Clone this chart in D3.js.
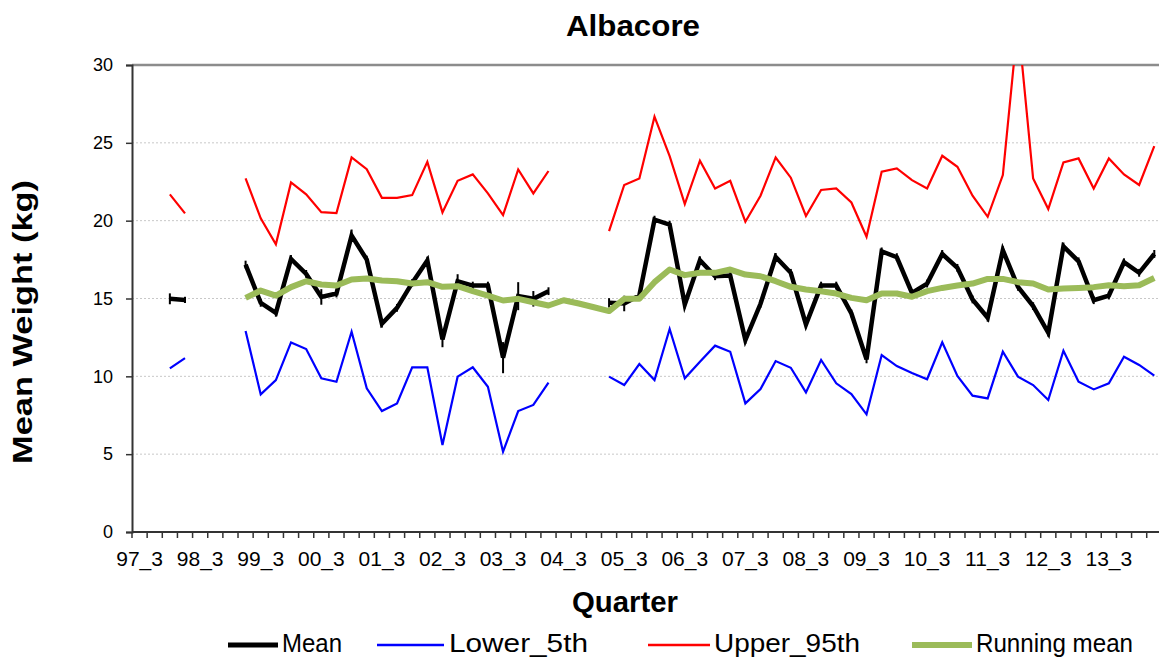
<!DOCTYPE html>
<html><head><meta charset="utf-8">
<script src="https://cdn.jsdelivr.net/npm/d3@7"></script>
<style>body{margin:0;background:#fff;overflow:hidden}text{font-family:"Liberation Sans",Arial,sans-serif}</style>
</head><body><svg id="c" width="1159" height="659"></svg>
<script>
const years = ["97","98","99","00","01","02","03","04","05","06","07","08","09","10","11","12","13","14"];
const categories = [];
years.forEach(y => [1,2,3,4].forEach(q => { if (!((y==="97" && q<3) || (y==="14" && q>2))) categories.push(y+"_"+q); }));
const tickLabels = ["97_3","98_3","99_3","00_3","01_3","02_3","03_3","04_3","05_3","06_3","07_3","08_3","09_3","10_3","11_3","12_3","13_3"];
const yTicks = [0,5,10,15,20,25,30];
const N = null;
const meanW = [N,N,14.98,14.91,N,N,N,17.18,14.72,14.08,17.54,16.58,15.1,15.32,19.04,17.5,13.38,14.4,16.0,17.44,12.37,16.11,15.83,15.83,11.2,15.15,14.98,15.47,N,N,N,14.72,14.68,15.19,20.06,19.74,14.62,17.46,16.43,16.47,12.33,14.66,17.67,16.65,13.33,15.83,15.83,14.04,11.09,18.03,17.65,15.36,15.96,17.86,16.97,14.94,13.76,18.1,15.75,14.51,12.8,18.35,17.39,14.89,15.19,17.33,16.65,17.86];
const meanErr = [N,N,0.35,0.2,N,N,N,0.25,0.25,0.25,0.25,0.25,0.5,0.25,0.4,0.25,0.25,0.25,0.25,0.25,0.5,0.45,0.25,0.25,1.0,0.9,0.5,0.25,N,N,N,0.3,0.5,0.25,0.25,0.25,0.25,0.25,0.25,0.25,0.25,0.25,0.25,0.25,0.25,0.25,0.25,0.25,0.25,0.25,0.25,0.25,0.25,0.25,0.25,0.25,0.25,0.25,0.25,0.25,0.25,0.25,0.25,0.25,0.25,0.25,0.25,0.25];
const lower5 = [N,N,10.51,11.17,N,N,N,12.91,8.84,9.76,12.18,11.75,9.87,9.65,12.87,9.23,7.77,8.26,10.58,10.58,5.59,9.98,10.58,9.33,5.16,7.77,8.16,9.59,N,N,N,9.98,9.44,10.79,9.76,13.04,9.87,10.94,11.97,11.58,8.26,9.18,10.98,10.55,8.97,11.05,9.55,8.86,7.56,11.37,10.66,10.22,9.81,12.18,10.02,8.76,8.58,11.58,9.98,9.44,8.48,11.65,9.65,9.16,9.55,11.26,10.73,10.04];
const upper95 = [N,N,21.69,20.47,N,N,N,22.71,20.15,18.48,22.46,21.69,20.55,20.49,24.06,23.31,21.47,21.47,21.64,23.78,20.53,22.56,22.97,21.75,20.36,23.29,21.75,23.19,N,N,N,19.33,22.29,22.71,26.68,24.15,21.07,23.85,22.07,22.56,19.93,21.6,24.06,22.76,20.3,21.97,22.07,21.17,18.97,23.14,23.36,22.6,22.07,24.17,23.46,21.6,20.25,22.93,32.8,22.71,20.75,23.74,24.0,22.07,24.0,22.97,22.29,24.79];
const runMean = [N,N,N,N,N,N,N,15.04,15.51,15.19,15.73,16.11,15.9,15.83,16.22,16.28,16.15,16.11,15.96,16.05,15.75,15.79,15.47,15.19,14.87,14.98,14.76,14.55,14.89,14.68,14.44,14.19,14.98,14.98,16.05,16.86,16.5,16.65,16.65,16.86,16.54,16.43,16.11,15.75,15.58,15.47,15.32,15.04,14.89,15.32,15.32,15.11,15.47,15.68,15.83,15.96,16.26,16.26,16.05,15.96,15.58,15.64,15.68,15.73,15.85,15.79,15.85,16.32];

const svg = d3.select("#c");
const L = 132, T = 65, B = 532, step = 15.145;
const R = L + categories.length * step;
const x = d3.scaleBand().domain(categories).range([L, R]).padding(0);
const y = d3.scaleLinear().domain([0, 30]).range([B, T]);
const cx = c => x(c) + x.bandwidth() / 2;

svg.append("defs").append("clipPath").attr("id","clip").append("rect").attr("x",L).attr("y",T).attr("width",R-L).attr("height",B-T);

// gridlines
svg.append("g").selectAll("line").data(yTicks.filter(v => v > 0 && v < 30)).join("line")
  .attr("x1", L).attr("x2", R).attr("y1", d => y(d)).attr("y2", d => y(d))
  .attr("stroke", "#c8c8c8").attr("stroke-width", 1).attr("stroke-dasharray", "2,2");
// top border
svg.append("line").attr("x1", L).attr("x2", R).attr("y1", T).attr("y2", T).attr("stroke", "#8c8c8c").attr("stroke-width", 2.5);

// axes
const yAxis = d3.axisLeft(y).tickValues(yTicks).tickSize(6).tickPadding(13);
const gy = svg.append("g").attr("transform", `translate(${L},0)`).call(yAxis);
gy.select(".domain").attr("stroke", "#333").attr("stroke-width", 2);
gy.selectAll(".tick line").attr("stroke", "#333").attr("stroke-width", 1.5);
gy.selectAll("text").attr("font-size", 18).attr("fill", "#000").attr("font-family", '"Liberation Sans",Arial,sans-serif');

const gx = svg.append("g").attr("transform", `translate(0,${B})`);
gx.append("line").attr("x1", L).attr("x2", R).attr("stroke", "#333").attr("stroke-width", 2);
gx.selectAll("line.tk").data(d3.range(categories.length + 1)).join("line").attr("class","tk")
  .attr("x1", i => L + i * x.bandwidth()).attr("x2", i => L + i * x.bandwidth())
  .attr("y1", 0).attr("y2", 6).attr("stroke", "#333").attr("stroke-width", 1.5);
gx.selectAll("text").data(tickLabels).join("text")
  .attr("x", d => cx(d)).attr("y", 34).attr("text-anchor", "middle")
  .attr("font-size", 21).attr("fill", "#000").text(d => d);

// lines
const plot = svg.append("g").attr("clip-path", "url(#clip)");
const mk = arr => d3.line().defined(d => d[1] !== null).x(d => cx(d[0])).y(d => y(d[1]))(categories.map((c, i) => [c, arr[i]]));
plot.append("path").attr("d", mk(meanW)).attr("fill", "none").attr("stroke", "#000").attr("stroke-width", 4.5).attr("stroke-linejoin", "miter");
plot.append("g").selectAll("line").data(categories.map((c, i) => [c, meanW[i], meanErr[i]]).filter(d => d[1] !== null)).join("line")
  .attr("x1", d => cx(d[0])).attr("x2", d => cx(d[0]))
  .attr("y1", d => y(d[1] - d[2])).attr("y2", d => y(d[1] + d[2]))
  .attr("stroke", "#000").attr("stroke-width", 2);
plot.append("path").attr("d", mk(lower5)).attr("fill", "none").attr("stroke", "#0000ff").attr("stroke-width", 2.2);
plot.append("path").attr("d", mk(upper95)).attr("fill", "none").attr("stroke", "#ff0000").attr("stroke-width", 2.2);
plot.append("path").attr("d", mk(runMean)).attr("fill", "none").attr("stroke", "#9bbb59").attr("stroke-width", 6).attr("stroke-linejoin", "round");

// titles
svg.append("text").attr("x", 633).attr("y", 36).attr("text-anchor", "middle").attr("font-size", 30).attr("font-weight", "bold").attr("textLength", 134).attr("lengthAdjust", "spacingAndGlyphs").text("Albacore");
svg.append("text").attr("x", 625).attr("y", 612).attr("text-anchor", "middle").attr("font-size", 29).attr("font-weight", "bold").attr("textLength", 106).attr("lengthAdjust", "spacingAndGlyphs").text("Quarter");
svg.append("text").attr("transform", "translate(32,322) rotate(-90)").attr("text-anchor", "middle").attr("font-size", 28).attr("font-weight", "bold").attr("textLength", 284).attr("lengthAdjust", "spacingAndGlyphs").text("Mean Weight (kg)");

// legend
const legend = [
  {name: "Mean", color: "#000", w: 5, x1: 228, x2: 278, tx: 282, tl: 60},
  {name: "Lower_5th", color: "#0000ff", w: 2.5, x1: 377, x2: 444, tx: 449, tl: 139},
  {name: "Upper_95th", color: "#ff0000", w: 2.5, x1: 648, x2: 710, tx: 714, tl: 146},
  {name: "Running mean", color: "#9bbb59", w: 6, x1: 912, x2: 972, tx: 976, tl: 157}
];
const lg = svg.append("g");
legend.forEach(d => {
  lg.append("line").attr("x1", d.x1).attr("x2", d.x2).attr("y1", 645).attr("y2", 645).attr("stroke", d.color).attr("stroke-width", d.w);
  lg.append("text").attr("x", d.tx).attr("y", 652).attr("font-size", 25).attr("textLength", d.tl).attr("lengthAdjust", "spacingAndGlyphs").text(d.name);
});
</script></body></html>
